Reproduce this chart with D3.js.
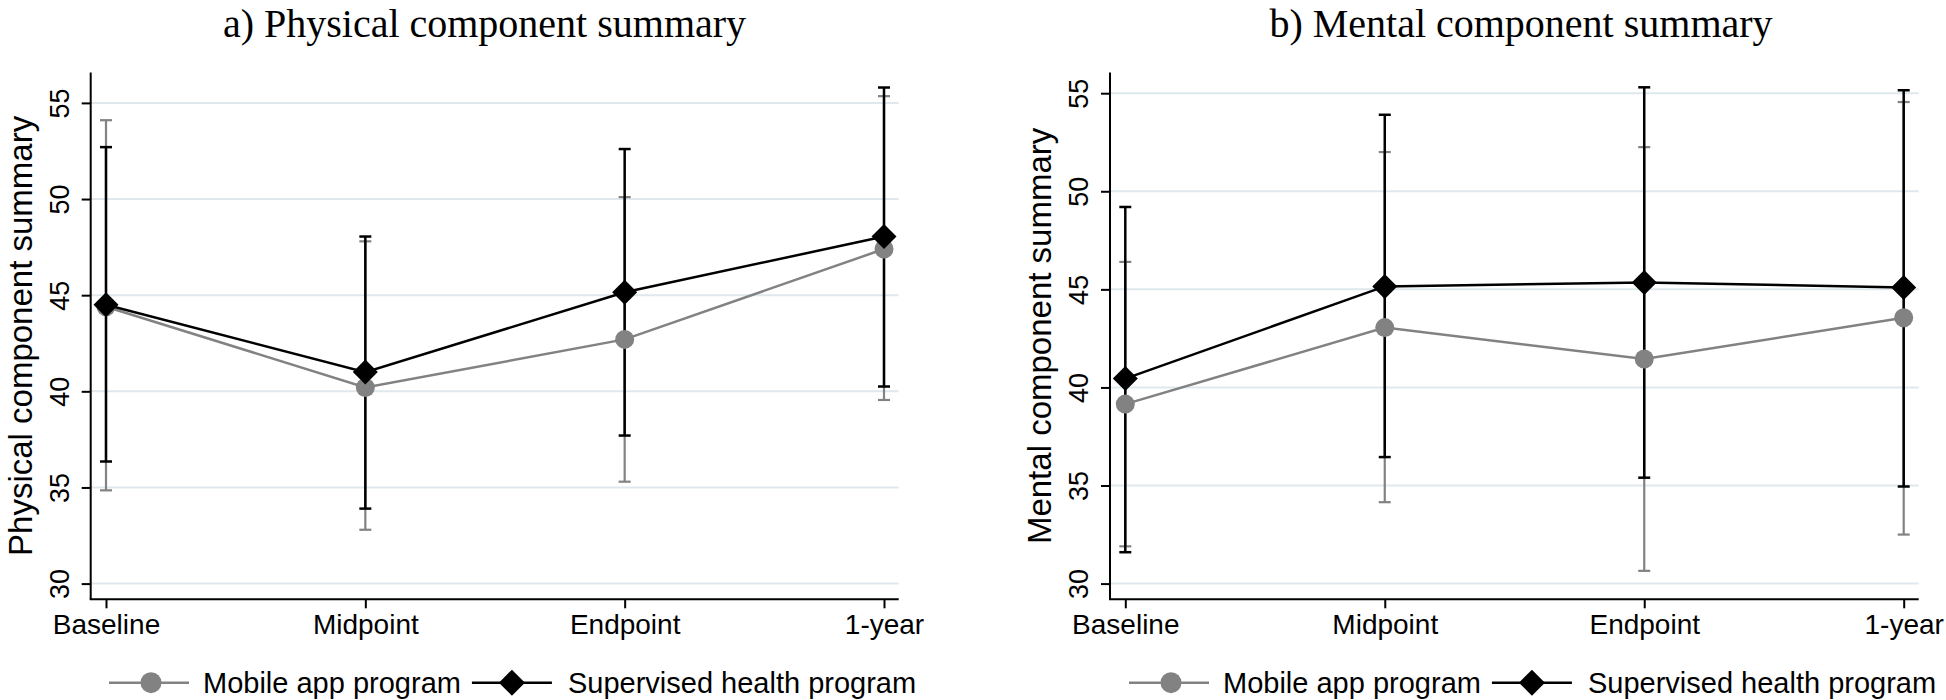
<!DOCTYPE html>
<html>
<head>
<meta charset="utf-8">
<script src="https://cdn.jsdelivr.net/npm/d3@7"></script>
<style>
  html, body { margin: 0; padding: 0; background: #fff; }
  svg { display: block; }
  text { font-family: "Liberation Sans", Arial, sans-serif; fill: #000; }
  .title { font-family: "Liberation Serif", "Times New Roman", serif; }
</style>
</head>
<body>
<div id="chart"></div>
<script>
// data
var timepoints = ["Baseline", "Midpoint", "Endpoint", "1-year"];
var yTicks = [30, 35, 40, 45, 50, 55];
var seriesNames = ["Mobile app program", "Supervised health program"];

var physMobile   = [44.4, 40.2, 42.7, 47.4];
var physMobileLo = [34.85, 32.8, 35.3, 39.55];
var physMobileHi = [54.1, 47.8, 50.1, 55.35];
var physSuper    = [44.5, 41.0, 45.15, 48.05];
var physSuperLo  = [36.35, 33.9, 37.7, 40.25];
var physSuperHi  = [52.7, 48.05, 52.6, 55.8];

var mentMobile   = [39.15, 43.05, 41.45, 43.55];
var mentMobileLo = [31.9, 34.15, 30.65, 32.5];
var mentMobileHi = [46.4, 52.0, 52.25, 54.55];
var mentSuper    = [40.45, 45.15, 45.35, 45.1];
var mentSuperLo  = [31.6, 36.45, 35.4, 34.95];
var mentSuperHi  = [49.2, 53.9, 55.3, 55.15];

var width = 1946;
var height = 700;

var svg = d3.select("#chart")
  .append("svg")
  .attr("width", width)
  .attr("height", height);

var gray = "#828282";
var gridColor = "#dfe9ed";

var panels = [
  {title: "a) Physical component summary", ytitle: "Physical component summary",
   mobile: physMobile, mobileLo: physMobileLo, mobileHi: physMobileHi,
   sup: physSuper, supLo: physSuperLo, supHi: physSuperHi,
   axisX: 90.7, xr: [106, 884], right: 898.7, yr: [583.6, 102.9],
   top: 72.5, bottom: 599.3, titleX: 484.5, legendX: 109},
  {title: "b) Mental component summary", ytitle: "Mental component summary",
   mobile: mentMobile, mobileLo: mentMobileLo, mobileHi: mentMobileHi,
   sup: mentSuper, supLo: mentSuperLo, supHi: mentSuperHi,
   axisX: 1110, xr: [1125.3, 1903.7], right: 1918.7, yr: [583.6, 93.2],
   top: 72.5, bottom: 599.3, titleX: 1521, legendX: 1129}
];

function diamond(s) {
  return "M0," + (-s) + "L" + s + ",0L0," + s + "L" + (-s) + ",0Z";
}

panels.forEach(function(p) {
  var x = d3.scalePoint().domain(timepoints).range(p.xr);
  var y = d3.scaleLinear().domain([30, 55]).range(p.yr);
  var g = svg.append("g");

  // title
  g.append("text")
    .attr("class", "title")
    .attr("x", p.titleX)
    .attr("y", 37)
    .attr("text-anchor", "middle")
    .attr("font-size", "40px")
    .text(p.title);

  // gridlines
  g.selectAll(".grid")
    .data(yTicks)
    .enter().append("line")
    .attr("x1", p.axisX)
    .attr("x2", p.right)
    .attr("y1", function(d) { return y(d); })
    .attr("y2", function(d) { return y(d); })
    .attr("stroke", gridColor)
    .attr("stroke-width", 2);

  // y axis
  var yAxis = g.append("g")
    .attr("transform", "translate(" + p.axisX + ",0)")
    .call(d3.axisLeft(y).tickValues(yTicks).tickSize(9).tickSizeOuter(0));
  yAxis.select(".domain").remove();
  yAxis.selectAll(".tick line").attr("stroke", "#000").attr("stroke-width", 2);
  yAxis.selectAll(".tick text")
    .attr("transform", "rotate(-90)")
    .attr("x", 0)
    .attr("y", -22)
    .attr("dy", 0)
    .attr("text-anchor", "middle")
    .attr("font-size", "27px")
    .attr("font-family", "Liberation Sans, Arial, sans-serif")
    .attr("fill", "#000");

  // x axis
  var xAxis = g.append("g")
    .attr("transform", "translate(0," + p.bottom + ")")
    .call(d3.axisBottom(x).tickSize(9).tickSizeOuter(0));
  xAxis.select(".domain").remove();
  xAxis.selectAll(".tick line").attr("stroke", "#000").attr("stroke-width", 2);
  xAxis.selectAll(".tick text")
    .attr("y", 35)
    .attr("dy", 0)
    .attr("font-size", "28px")
    .attr("font-family", "Liberation Sans, Arial, sans-serif")
    .attr("fill", "#000");

  // axis lines
  g.append("line")
    .attr("x1", p.axisX).attr("x2", p.axisX)
    .attr("y1", p.top).attr("y2", p.bottom)
    .attr("stroke", "#000").attr("stroke-width", 2);
  g.append("line")
    .attr("x1", p.axisX - 1).attr("x2", p.right)
    .attr("y1", p.bottom).attr("y2", p.bottom)
    .attr("stroke", "#000").attr("stroke-width", 2);

  // y axis title
  g.append("text")
    .attr("transform", "translate(" + (p.axisX - 59) + "," + ((p.top + p.bottom) / 2) + ") rotate(-90)")
    .attr("text-anchor", "middle")
    .attr("font-size", "33px")
    .text(p.ytitle);

  // error bars
  function errorBars(lo, hi, color, sw) {
    var eb = g.append("g");
    timepoints.forEach(function(t, i) {
      eb.append("line")
        .attr("x1", x(t)).attr("x2", x(t))
        .attr("y1", y(lo[i])).attr("y2", y(hi[i]))
        .attr("stroke", color).attr("stroke-width", sw);
      [lo[i], hi[i]].forEach(function(v) {
        eb.append("line")
          .attr("x1", x(t) - 6).attr("x2", x(t) + 6)
          .attr("y1", y(v)).attr("y2", y(v))
          .attr("stroke", color).attr("stroke-width", sw);
      });
    });
  }
  errorBars(p.mobileLo, p.mobileHi, gray, 2.2);
  errorBars(p.supLo, p.supHi, "#000", 2.5);

  var line = d3.line()
    .x(function(d, i) { return x(timepoints[i]); })
    .y(function(d) { return y(d); });

  g.append("path")
    .datum(p.mobile)
    .attr("d", line)
    .attr("fill", "none")
    .attr("stroke", gray)
    .attr("stroke-width", 2.5);
  g.selectAll(".mob")
    .data(p.mobile)
    .enter().append("circle")
    .attr("cx", function(d, i) { return x(timepoints[i]); })
    .attr("cy", function(d) { return y(d); })
    .attr("r", 9.5)
    .attr("fill", gray);

  g.append("path")
    .datum(p.sup)
    .attr("d", line)
    .attr("fill", "none")
    .attr("stroke", "#000")
    .attr("stroke-width", 2.5);
  g.selectAll(".sup")
    .data(p.sup)
    .enter().append("path")
    .attr("d", diamond(12.5))
    .attr("transform", function(d, i) { return "translate(" + x(timepoints[i]) + "," + y(d) + ")"; })
    .attr("fill", "#000");

  // legend
  var ly = 682.7;
  var lg = g.append("g");
  var cx = p.legendX;
  lg.append("line").attr("x1", cx).attr("x2", cx + 80).attr("y1", ly).attr("y2", ly)
    .attr("stroke", gray).attr("stroke-width", 2.5);
  lg.append("circle").attr("cx", cx + 42).attr("cy", ly).attr("r", 10.5).attr("fill", gray);
  cx += 94;
  var t1 = lg.append("text").attr("x", cx).attr("y", ly + 10).attr("font-size", "29px").text(seriesNames[0]);
  cx += t1.node().getComputedTextLength() + 11;
  lg.append("line").attr("x1", cx).attr("x2", cx + 80).attr("y1", ly).attr("y2", ly)
    .attr("stroke", "#000").attr("stroke-width", 2.5);
  lg.append("path").attr("d", diamond(13)).attr("transform", "translate(" + (cx + 40) + "," + ly + ")")
    .attr("fill", "#000");
  cx += 96;
  lg.append("text").attr("x", cx).attr("y", ly + 10).attr("font-size", "29px").text(seriesNames[1]);
});
</script>
</body>
</html>
